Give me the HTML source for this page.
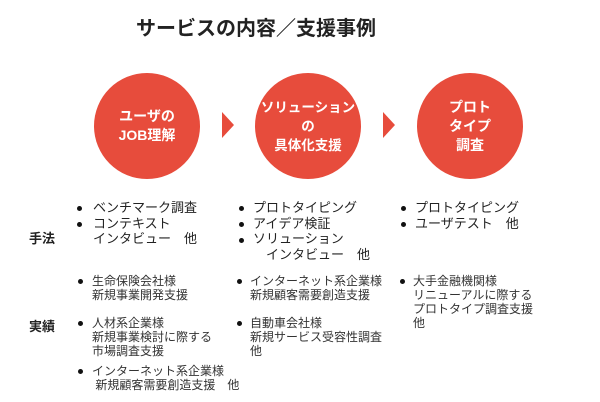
<!DOCTYPE html>
<html><head><meta charset="utf-8"><style>
body{margin:0;width:600px;height:402px;background:#fff;position:relative;overflow:hidden;font-family:"Liberation Sans","Noto Sans CJK JP",sans-serif;color:#222}
.a{position:absolute;white-space:nowrap}
.t{font-size:20px;font-weight:bold;left:0;width:512px;text-align:center;top:12px}
.c{position:absolute;width:106px;height:106px;border-radius:50%;background:#e74c3c;color:#fff;font-weight:bold;font-size:14px;line-height:19px;display:flex;align-items:center;justify-content:center;text-align:center}
.tri{position:absolute;width:0;height:0;border-top:13px solid transparent;border-bottom:13px solid transparent;border-left:12px solid #e74c3c}
.m{font-size:13px;line-height:15.5px}
.r{font-size:12px;line-height:14px;color:#333}
.b{position:absolute;width:5px;height:5px;border-radius:50%;background:#111}
.h{font-size:13px;font-weight:bold}
</style></head><body>
<div class="a t">サービスの内容／支援事例</div>
<div class="c" style="left:94px;top:73px">ユーザの<br>JOB理解</div>
<div class="tri" style="left:222px;top:112px"></div>
<div class="c" style="left:255px;top:73px;font-size:13.5px">ソリューション<br>の<br>具体化支援</div>
<div class="tri" style="left:383px;top:112px"></div>
<div class="c" style="left:417px;top:73px">プロト<br>タイプ<br>調査</div>

<div class="a h" style="left:29px;top:228px">手法</div>
<div class="a h" style="left:29px;top:316px">実績</div>

<div class="b" style="left:77px;top:206px"></div><div class="b" style="left:77px;top:222px"></div>
<div class="a m" style="left:93px;top:200px">ベンチマーク調査<br>コンテキスト<br>インタビュー　他</div>

<div class="b" style="left:239px;top:206px"></div><div class="b" style="left:239px;top:222px"></div><div class="b" style="left:239px;top:238px"></div>
<div class="a m" style="left:253px;top:200px">プロトタイピング<br>アイデア検証<br>ソリューション<br>　インタビュー　他</div>

<div class="b" style="left:401px;top:206px"></div><div class="b" style="left:401px;top:222px"></div>
<div class="a m" style="left:415px;top:200px">プロトタイピング<br>ユーザテスト　他</div>

<div class="b" style="left:78px;top:279px"></div>
<div class="a r" style="left:92px;top:274px">生命保険会社様<br>新規事業開発支援</div>
<div class="b" style="left:78px;top:321px"></div>
<div class="a r" style="left:92px;top:316px">人材系企業様<br>新規事業検討に際する<br>市場調査支援</div>
<div class="b" style="left:78px;top:369px"></div>
<div class="a r" style="left:92px;top:364px">インターネット系企業様<br>&nbsp;新規顧客需要創造支援　他</div>

<div class="b" style="left:237px;top:279px"></div>
<div class="a r" style="left:250px;top:274px">インターネット系企業様<br>新規顧客需要創造支援</div>
<div class="b" style="left:237px;top:321px"></div>
<div class="a r" style="left:250px;top:316px">自動車会社様<br>新規サービス受容性調査<br>他</div>

<div class="b" style="left:400px;top:279px"></div>
<div class="a r" style="left:413px;top:274px">大手金融機関様<br>リニューアルに際する<br>プロトタイプ調査支援<br>他</div>
</body></html>
